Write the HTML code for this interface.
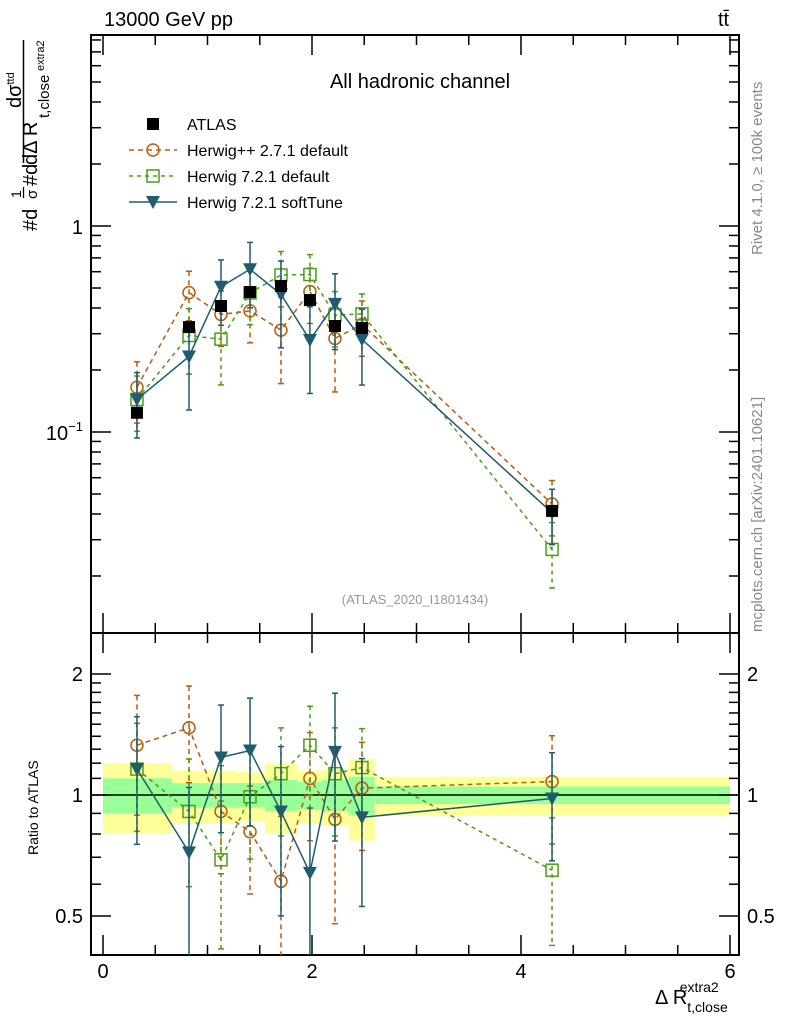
<!DOCTYPE html>
<html><head><meta charset="utf-8"><style>
html,body{margin:0;padding:0;background:#fff;}
svg{display:block;font-family:"Liberation Sans",sans-serif;}
</style></head><body>
<svg id="chart" width="786" height="1024" viewBox="0 0 786 1024" xmlns="http://www.w3.org/2000/svg">
<text x="104" y="26" font-size="20">13000 GeV pp</text>
<text x="718" y="26" font-size="20">tt̄</text>
<text x="420" y="88" font-size="20" text-anchor="middle">All hadronic channel</text>
<text x="415" y="604" font-size="13" fill="#999" text-anchor="middle">(ATLAS_2020_I1801434)</text>
<text transform="translate(762,255) rotate(-90)" font-size="15" fill="#888">Rivet 4.1.0, ≥ 100k events</text>
<text transform="translate(762,632) rotate(-90)" font-size="15" fill="#888">mcplots.cern.ch [arXiv:2401.10621]</text>
<g>
 <text transform="translate(37,231) rotate(-90)" font-size="20">#d</text>
 <text transform="translate(21,198) rotate(-90)" font-size="14">1</text>
 <line x1="23.5" y1="187" x2="23.5" y2="198" stroke="#000" stroke-width="1.3"/>
 <text transform="translate(37,199) rotate(-90)" font-size="15">σ</text>
 <text transform="translate(37,186) rotate(-90)" font-size="20">#d</text>
 <line x1="23.5" y1="40" x2="23.5" y2="163" stroke="#000" stroke-width="1.5"/>
 <text transform="translate(21,108) rotate(-90)" font-size="20">dσ<tspan font-size="11" dy="-7">ttd</tspan></text>
 <text transform="translate(37,165) rotate(-90)" font-size="20">dΔ R</text>
 <text transform="translate(49,118) rotate(-90)" font-size="15">t,close</text>
 <text transform="translate(44,71) rotate(-90)" font-size="11">extra2</text>
</g>
<text transform="translate(38,855) rotate(-90)" font-size="14">Ratio to ATLAS</text>
<text x="655" y="1004" font-size="20">Δ R<tspan font-size="14" dy="8">t,close</tspan><tspan font-size="14" dx="-48" dy="-20">extra2</tspan></text>
<g id="plot"></g>
</svg>
<script>
const xPos=[0.325,0.823,1.129,1.407,1.703,1.98,2.22,2.478,4.297];
const binEdges=[0,0.66,1.25,1.55,1.86,2.1,2.35,2.6,6];
const atlasVals=[0.124,0.323,0.409,0.478,0.512,0.437,0.327,0.32,0.0414];
const statBand=[0.10,0.07,0.07,0.09,0.08,0.09,0.11,0.05];
const totBand=[0.20,0.15,0.14,0.20,0.15,0.16,0.23,0.11];
const hppRatio=[1.33,1.47,0.91,0.81,0.61,1.10,0.87,1.04,1.08];
const hppErr=[0.33,0.27,0.3,0.3,0.45,0.3,0.45,0.3,0.3];
const h7Ratio=[1.16,0.91,0.69,0.99,1.13,1.33,1.13,1.17,0.65];
const h7Err=[0.3,0.35,0.4,0.3,0.3,0.25,0.3,0.25,0.35];
const softRatio=[1.16,0.72,1.24,1.29,0.91,0.64,1.28,0.88,0.98];
const softErr=[0.35,0.45,0.35,0.35,0.45,0.45,0.4,0.4,0.3];
const xTicks=[0,2,4,6];

const NS="http://www.w3.org/2000/svg";
const g=document.getElementById('plot');
const L=91,R=739,T=35,M=633,B=955;
const X=v=>103+v*104.5;
const Y=v=>226-206*Math.log10(v);
const YR=v=>795-402*Math.log10(v);
function mk(t,a,p){const e=document.createElementNS(NS,t);for(const k in a)e.setAttribute(k,a[k]);(p||g).appendChild(e);return e;}

for(let i=0;i<statBand.length;i++){
 const x1=X(binEdges[i]),x2=X(binEdges[i+1]);
 let r=mk('rect',{x:x1,y:YR(1+totBand[i]),width:x2-x1,height:YR(1-totBand[i])-YR(1+totBand[i]),fill:'#ffff99'});
 
 
 let s=mk('rect',{x:x1,y:YR(1+statBand[i]),width:x2-x1,height:YR(1-statBand[i])-YR(1+statBand[i]),fill:'#99ff99'});
 
 
}
mk('line',{x1:L,x2:R,y1:YR(1),y2:YR(1),stroke:'#000','stroke-width':1.5});

mk('rect',{x:L,y:T,width:R-L,height:M-T,fill:'none',stroke:'#000','stroke-width':2});
mk('rect',{x:L,y:M,width:R-L,height:B-M,fill:'none',stroke:'#000','stroke-width':2});

for(let d=-2;d<=0;d++){for(let m=1;m<=9;m++){const v=m*Math.pow(10,d);const y=Y(v);if(y<T||y>M)continue;const len=m==1?20:10;
 mk('line',{x1:L,x2:L+len,y1:y,y2:y,stroke:'#000','stroke-width':1.5});mk('line',{x1:R,x2:R-len,y1:y,y2:y,stroke:'#000','stroke-width':1.5});}}
let t1=mk('text',{x:L-8,y:Y(1)+8,'font-size':20,'text-anchor':'end'});t1.textContent='1';
let t2=mk('text',{x:L-8,y:Y(0.1)+8,'font-size':20,'text-anchor':'end'});t2.innerHTML='10<tspan font-size="13" dy="-9">−1</tspan>';
[0.5,0.6,0.7,0.8,0.9,1,2].forEach(v=>{const y=YR(v);const big=(v==0.5||v==1||v==2);const len=big?20:10;
 mk('line',{x1:L,x2:L+len,y1:y,y2:y,stroke:'#000','stroke-width':1.5});mk('line',{x1:R,x2:R-len,y1:y,y2:y,stroke:'#000','stroke-width':1.5});
 if(big){const s=v==1?'1':(v==2?'2':'0.5');let a=mk('text',{x:L-8,y:y+7,'font-size':20,'text-anchor':'end'});a.textContent=s;
 let b=mk('text',{x:R+8,y:y+7,'font-size':20});b.textContent=s;}});
for(let v=1.1;v<1.95;v+=0.1){const y=YR(v);mk('line',{x1:L,x2:L+10,y1:y,y2:y,stroke:'#000','stroke-width':1.5});mk('line',{x1:R,x2:R-10,y1:y,y2:y,stroke:'#000','stroke-width':1.5});}
for(let v=0;v<=6.01;v+=0.5){const x=X(v);const big=Math.abs(v-Math.round(v/2)*2)<0.01;const len=big?20:10;
 [[T,1],[M,-1],[M,1],[B,-1]].forEach(([y0,s])=>mk('line',{x1:x,x2:x,y1:y0,y2:y0+s*len,stroke:'#000','stroke-width':1.5}));}
xTicks.forEach(v=>{let t=mk('text',{x:X(v),y:978,'font-size':20,'text-anchor':'middle'});t.textContent=v;});

const cHpp='#b85c0c',cH7='#4a9e16',cSoft='#1e5c6e';
function series(name,ratio,err,color,dash,marker){
 const grp=mk('g',{});
 
 
 const mainPts=ratio.map((r,i)=>[X(xPos[i]),Y(r*atlasVals[i])]);
 const ratPts=ratio.map((r,i)=>[X(xPos[i]),YR(r)]);
 [[mainPts,Y,i=>ratio[i]*atlasVals[i],i=>err[i]*ratio[i]*atlasVals[i]],[ratPts,YR,i=>ratio[i],i=>err[i]*ratio[i]]].forEach(([pts,fy,val,e])=>{
  mk('polyline',{points:pts.map(p=>p.join(',')).join(' '),fill:'none',stroke:color,'stroke-width':1.5,'stroke-dasharray':dash},grp);
  pts.forEach((p,i)=>{const lo=Math.max(val(i)-e(i),1e-4);let y1=fy(val(i)+e(i)),y2=Math.min(fy(lo),fy===YR?B:M);
   mk('line',{x1:p[0],x2:p[0],y1:y1,y2:y2,stroke:color,'stroke-width':1.5,'stroke-dasharray':dash},grp);
   mk('line',{x1:p[0]-3,x2:p[0]+3,y1:y1,y2:y1,stroke:color,'stroke-width':1.5},grp);
   if(y2<(fy===YR?B:M))mk('line',{x1:p[0]-3,x2:p[0]+3,y1:y2,y2:y2,stroke:color,'stroke-width':1.5},grp);
   marker(p[0],p[1],grp);});
 });
}
const circ=(x,y,p)=>mk('circle',{cx:x,cy:y,r:6,fill:'none',stroke:cHpp,'stroke-width':1.5},p);
const sq=(x,y,p)=>mk('rect',{x:x-6,y:y-6,width:12,height:12,fill:'none',stroke:cH7,'stroke-width':1.5},p);
const tri=(x,y,p)=>mk('polygon',{points:`${x-7},${y-6} ${x+7},${y-6} ${x},${y+7}`,fill:cSoft},p);
series('herwigpp-series',hppRatio,hppErr,cHpp,'5,4',circ);
series('herwig7-default-series',h7Ratio,h7Err,cH7,'4,4',sq);
series('herwig7-softtune-series',softRatio,softErr,cSoft,'none',tri);
atlasVals.forEach((v,i)=>{let r=mk('rect',{x:X(xPos[i])-6,y:Y(v)-6,width:12,height:12,fill:'#000'});
 
 });

const lg=mk('g',{});


const items=[['ATLAS','#000','none',null],['Herwig++ 2.7.1 default',cHpp,'5,4',circ],['Herwig 7.2.1 default',cH7,'4,4',sq],['Herwig 7.2.1 softTune',cSoft,'none',tri]];
items.forEach((it,i)=>{const y=124+i*26;
 if(i==0)mk('rect',{x:147,y:y-6,width:12,height:12,fill:'#000'},lg);
 else{mk('line',{x1:129,x2:177,y1:y,y2:y,stroke:it[1],'stroke-width':1.5,'stroke-dasharray':it[2]},lg);it[3](153,y,lg);}
 let t=mk('text',{x:187,y:y+6,'font-size':16},lg);t.textContent=it[0];});
</script>
</body></html>
